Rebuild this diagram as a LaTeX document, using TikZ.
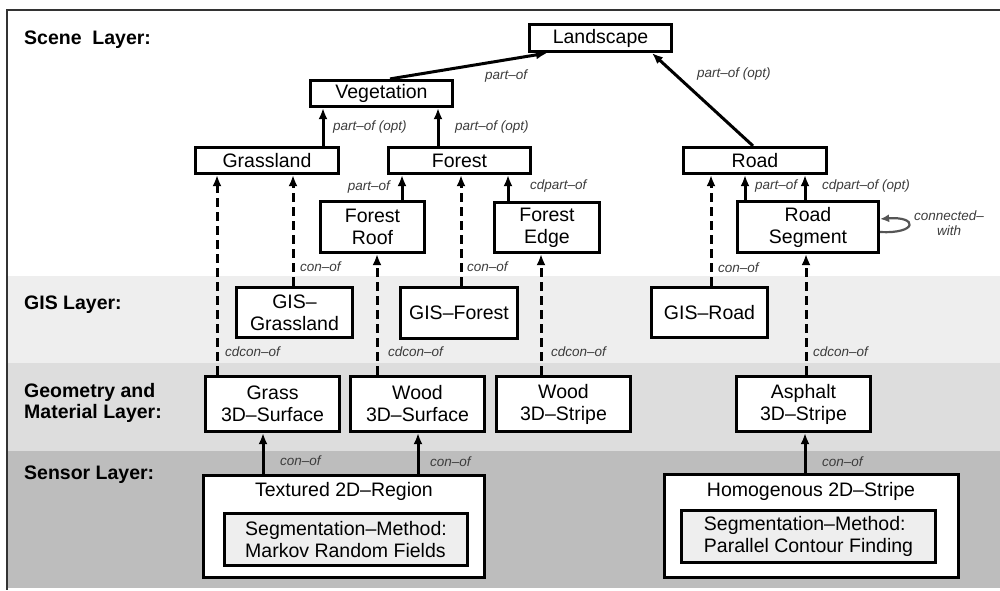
\documentclass[tikz,border=0pt]{standalone}
\usepackage{fontspec}
\setmainfont{Liberation Sans}
\usetikzlibrary{arrows.meta}
\definecolor{gisgray}{HTML}{EEEEEE}
\definecolor{geogray}{HTML}{DDDDDD}
\definecolor{sensgray}{HTML}{BDBDBD}
\definecolor{labgray}{HTML}{3C3C3C}
\definecolor{loopgray}{HTML}{555555}

\begin{document}
\begin{tikzpicture}[x=1pt,y=-1pt,
	box/.style={draw, line width=3.2pt, fill=white, align=center, inner sep=0pt, font=\fontsize{19.5}{22}\selectfont},
	segbox/.style={box, fill=gisgray, align=left},
	lbl/.style={text=labgray, inner sep=0pt, anchor=west, font=\fontsize{13.5}{15}\selectfont\itshape},
	layer/.style={anchor=west, align=left, inner sep=0pt, font=\fontsize{19.5}{21}\selectfont\bfseries},
	arr/.style={line width=3pt, -{Latex[length=11pt,width=9pt]}},
	darr/.style={arr, dash pattern=on 9pt off 5pt}]
				\useasboundingbox (0,0) rectangle (1000,590);
				% layer bands
				\fill[gisgray] (7,276) rectangle (1000,363);
				\fill[geogray] (7,363) rectangle (1000,451);
				\fill[sensgray] (7,451) rectangle (1000,588);
				\draw[line width=1.5pt, black!80] (1000,10) -- (7,10) -- (7,590);
				\node[layer] (lScene) at (24,40) {Scene\ \ Layer:};
				\node[layer] (lGis) at (24,305) {GIS Layer:};
				\node[layer] (lGeo) at (24,403) {Geometry and\\Material Layer:};
				\node[layer] (lSens) at (24,475) {Sensor Layer:};
				% scene layer
				\node[box, minimum width=142, minimum height=27] (land) at (600.5,38) {Landscape};
				\node[box, minimum width=142, minimum height=26] (veg) at (381.5,93.5) {Vegetation};
				\node[box, minimum width=143, minimum height=26] (grass) at (267,160.5) {Grassland};
				\node[box, minimum width=142, minimum height=26] (forest) at (459.5,160.5) {Forest};
				\node[box, minimum width=143, minimum height=26] (road) at (755,160.5) {Road};
				\node[box, minimum width=104, minimum height=51] (roof) at (372.5,227) {Forest\\Roof};
				\node[box, minimum width=105, minimum height=50] (edge) at (547,227.5) {Forest\\Edge};
				\node[box, minimum width=141, minimum height=51] (seg) at (808,227) {Road\\Segment};
				% GIS layer
				\node[box, minimum width=116, minimum height=50] (gisGrass) at (294.5,312.5) {GIS–\\Grassland};
				\node[box, minimum width=117, minimum height=51] (gisForest) at (459,313) {GIS–Forest};
				\node[box, minimum width=116, minimum height=50] (gisRoad) at (709.5,312.5) {GIS–Road};
				% geometry and material layer
				\node[box, minimum width=134, minimum height=55] (grass3d) at (272.5,404) {Grass\\3D–Surface};
				\node[box, minimum width=134, minimum height=55] (wood3d) at (417.5,404) {Wood\\3D–Surface};
				\node[box, minimum width=134, minimum height=55] (woodStr) at (563.5,404) {Wood\\3D–Stripe};
				\node[box, minimum width=134, minimum height=55] (asph) at (803.5,404) {Asphalt\\3D–Stripe};
				% sensor layer
				\node[box, minimum width=281, minimum height=102] (tex) at (344,526.5) {};
				\node[inner sep=0pt, font=\fontsize{19.5}{22}\selectfont] (texTitle) at (344,491) {Textured 2D–Region};
				\node[segbox, minimum width=243, minimum height=52] (texSeg) at (346,539.5) {Segmentation–Method:\\Markov Random Fields};
				\node[box, minimum width=294, minimum height=103] (hom) at (811.5,526) {};
				\node[inner sep=0pt, font=\fontsize{19.5}{22}\selectfont] (homTitle) at (811,491) {Homogenous 2D–Stripe};
				\node[segbox, minimum width=254, minimum height=52] (homSeg) at (808.5,536.5) {Segmentation–Method:\\Parallel Contour Finding};
				% part-of
				\draw[arr] (veg.north -| 390,0) -- (land.south -| 547,0);
				\node[lbl] (pVeg) at (485,76) {part–of};
				\draw[arr] (road.north -| 753,0) -- (land.south -| 652,0);
				\node[lbl] (pRoad) at (697,74) {part–of (opt)};
				\draw[arr] (grass.north -| 323,0) -- (veg.south -| 323,0);
				\node[lbl] (pGrass) at (333,127) {part–of (opt)};
				\draw[arr] (forest.north -| 438,0) -- (veg.south -| 438,0);
				\node[lbl] (pForest) at (455,127) {part–of (opt)};
				\draw[arr] (roof.north -| 402,0) -- (forest.south -| 402,0);
				\node[lbl, anchor=east] (pRoof) at (390,187) {part–of};
				\draw[arr] (edge.north -| 508,0) -- (forest.south -| 508,0);
				\node[lbl] (pEdge) at (530,186) {cdpart–of};
				\draw[arr] (seg.north -| 745,0) -- (road.south -| 745,0);
				\node[lbl] (pSeg) at (755,186) {part–of};
				\draw[arr] (seg.north -| 805,0) -- (road.south -| 805,0);
				\node[lbl] (pSegOpt) at (822,186) {cdpart–of (opt)};
				% connected-with
				\draw[line width=2.2pt, loopgray, -{Latex[length=9pt,width=8pt]}] (seg.east |- 0,232) .. controls (918,234) and (918,216) .. (seg.east |- 0,219);
				\node[lbl, anchor=center, align=center] (cWith) at (949,223) {connected–\\with};
				% con-of
				\draw[darr] (gisGrass.north -| 293,0) -- (grass.south -| 293,0);
				\node[lbl] (cGrass) at (300,267) {con–of};
				\draw[darr] (gisForest.north -| 461,0) -- (forest.south -| 461,0);
				\node[lbl] (cForest) at (467,267) {con–of};
				\draw[darr] (gisRoad.north -| 711,0) -- (road.south -| 711,0);
				\node[lbl] (cRoad) at (718,268) {con–of};
				% cdcon-of
				\draw[darr] (grass3d.north -| 217,0) -- (grass.south -| 217,0);
				\node[lbl] (dGrass) at (225,352) {cdcon–of};
				\draw[darr] (wood3d.north -| 377,0) -- (roof.south -| 377,0);
				\node[lbl] (dWood) at (388,352) {cdcon–of};
				\draw[darr] (woodStr.north -| 541,0) -- (edge.south -| 541,0);
				\node[lbl] (dStripe) at (551,352) {cdcon–of};
				\draw[darr] (asph.north -| 806,0) -- (seg.south -| 806,0);
				\node[lbl] (dAsph) at (813,352) {cdcon–of};
				% sensor con-of
				\draw[arr] (tex.north -| 263,0) -- (grass3d.south -| 263,0);
				\node[lbl] (sGrass) at (280,461) {con–of};
				\draw[arr] (tex.north -| 418,0) -- (wood3d.south -| 418,0);
				\node[lbl] (sWood) at (430,462) {con–of};
				\draw[arr] (hom.north -| 805,0) -- (asph.south -| 805,0);
				\node[lbl] (sAsph) at (822,462) {con–of};
\end{tikzpicture}
\end{document}
